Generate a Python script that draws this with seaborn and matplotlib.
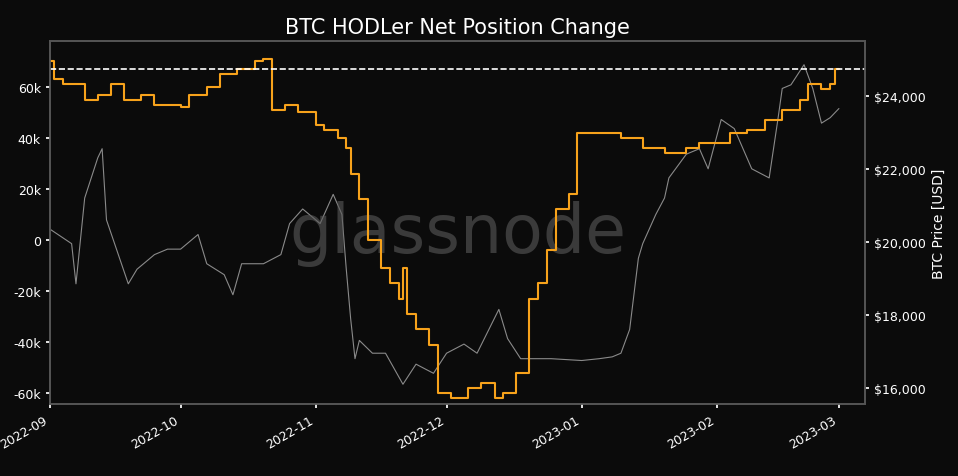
import pandas as pd
import matplotlib
matplotlib.use("Agg")
import matplotlib.pyplot as plt
import matplotlib.dates as mdates
import seaborn as sns

# HODLer net position change (k BTC)
net_dates = ["2022-09-01", "2022-09-02", "2022-09-04", "2022-09-09", "2022-09-12", "2022-09-15",
             "2022-09-18", "2022-09-22", "2022-09-25", "2022-10-01", "2022-10-03", "2022-10-07",
             "2022-10-10", "2022-10-14", "2022-10-18", "2022-10-20", "2022-10-22", "2022-10-25",
             "2022-10-28", "2022-11-01", "2022-11-03", "2022-11-06", "2022-11-08", "2022-11-09",
             "2022-11-11", "2022-11-13", "2022-11-16", "2022-11-18", "2022-11-20", "2022-11-21",
             "2022-11-22", "2022-11-24", "2022-11-27", "2022-11-29", "2022-12-02", "2022-12-06",
             "2022-12-09", "2022-12-12", "2022-12-14", "2022-12-17", "2022-12-20", "2022-12-22",
             "2022-12-24", "2022-12-26", "2022-12-29", "2022-12-31", "2023-01-03", "2023-01-10",
             "2023-01-15", "2023-01-20", "2023-01-25", "2023-01-28", "2023-02-01", "2023-02-04",
             "2023-02-08", "2023-02-12", "2023-02-16", "2023-02-20", "2023-02-22", "2023-02-25",
             "2023-02-27", "2023-02-28", "2023-03-01"]
net_values = [70, 63, 61, 55, 57, 61, 55, 57, 53, 52, 57, 60, 65, 67, 70, 71, 51, 53, 50, 45,
              43, 40, 36, 26, 16, 0, -11, -17, -23, -11, -29, -35, -41, -60, -62, -58, -56, -62,
              -60, -52, -23, -17, -4, 12, 18, 42, 42, 40, 36, 34, 36, 38, 38, 42, 43, 47, 51,
              55, 61, 59, 61, 67, 67]

# BTC price (USD)
price_dates = ["2022-09-01", "2022-09-06", "2022-09-07", "2022-09-09", "2022-09-12", "2022-09-13",
               "2022-09-14", "2022-09-16", "2022-09-19", "2022-09-21", "2022-09-25", "2022-09-28",
               "2022-10-01", "2022-10-05", "2022-10-07", "2022-10-11", "2022-10-13", "2022-10-15",
               "2022-10-20", "2022-10-24", "2022-10-26", "2022-10-29", "2022-11-02", "2022-11-05",
               "2022-11-07", "2022-11-08", "2022-11-09", "2022-11-10", "2022-11-11", "2022-11-14",
               "2022-11-17", "2022-11-21", "2022-11-24", "2022-11-28", "2022-12-01", "2022-12-05",
               "2022-12-08", "2022-12-13", "2022-12-15", "2022-12-18", "2022-12-25", "2023-01-01",
               "2023-01-05", "2023-01-08", "2023-01-10", "2023-01-12", "2023-01-14", "2023-01-15",
               "2023-01-18", "2023-01-20", "2023-01-21", "2023-01-25", "2023-01-28", "2023-01-30",
               "2023-02-02", "2023-02-05", "2023-02-09", "2023-02-13", "2023-02-15", "2023-02-16",
               "2023-02-18", "2023-02-21", "2023-02-23", "2023-02-25", "2023-02-27", "2023-03-01"]
price_values = [20350, 19950, 18850, 21200, 22300, 22550, 20600, 19900, 18850, 19250, 19650, 19800,
                19800, 20200, 19400, 19100, 18550, 19400, 19400, 19650, 20500, 20900, 20500, 21300,
                20750, 19250, 17900, 16800, 17300, 16950, 16950, 16100, 16650, 16400, 16950, 17200,
                16950, 18150, 17350, 16800, 16800, 16750, 16800, 16850, 16950, 17600, 19550, 19950,
                20750, 21200, 21750, 22400, 22550, 22000, 23350, 23100, 22000, 21750, 23350, 24200,
                24300, 24850, 24200, 23250, 23400, 23650]

net = pd.DataFrame({"date": pd.to_datetime(net_dates), "value": net_values})
price = pd.DataFrame({"date": pd.to_datetime(price_dates), "value": price_values})

bg = "#0b0b0b"
sns.set_theme(style="dark")
plt.rcParams["font.family"] = ["DejaVu Sans"]
fig, ax = plt.subplots(figsize=(9.58, 4.77), dpi=100)
fig.patch.set_facecolor(bg)
ax.set_facecolor(bg)
ax2 = ax.twinx()

sns.lineplot(data=price, x="date", y="value", ax=ax2, color="#8a8a8a", linewidth=0.8)
sns.lineplot(data=net, x="date", y="value", ax=ax, color="#f7a21b", linewidth=1.5, drawstyle="steps-post")
ax.set_zorder(ax2.get_zorder() + 1)
ax.patch.set_visible(False)
ax.axhline(67, color="white", linestyle="--", linewidth=1.2)

ax.set_ylim(-64.3, 78)
ax2.set_ylim(15560, 25500)
ax.set_xlim(pd.Timestamp("2022-09-01"), pd.Timestamp("2023-03-07"))
ax.set_yticks([-60, -40, -20, 0, 20, 40, 60])
ax.set_yticklabels(["-60k", "-40k", "-20k", "0", "20k", "40k", "60k"])
ax2.set_yticks([16000, 18000, 20000, 22000, 24000])
ax2.set_yticklabels(["$16,000", "$18,000", "$20,000", "$22,000", "$24,000"])
ax.xaxis.set_major_locator(mdates.MonthLocator())
ax.xaxis.set_major_formatter(mdates.DateFormatter("%Y-%m"))
plt.setp(ax.get_xticklabels(), rotation=30, ha="right")

for a in (ax, ax2):
    a.tick_params(colors="white", labelsize=9, length=3, left=(a is ax), right=(a is ax2), bottom=True)
    for s in a.spines.values():
        s.set_color("#555555")
ax.set_xlabel("")
ax.set_ylabel("")
ax2.set_xlabel("")
ax2.set_ylabel("BTC Price [USD]", color="white", fontsize=10)
ax.set_title("BTC HODLer Net Position Change", color="white", fontsize=15)
ax.text(0.5, 0.47, "glassnode", transform=ax.transAxes, ha="center", va="center",
        fontsize=48, color="#5a5a5a", alpha=0.6, zorder=0)

plt.subplots_adjust(left=0.052, right=0.903, top=0.912, bottom=0.151)
fig.savefig("out.png", facecolor=bg)
